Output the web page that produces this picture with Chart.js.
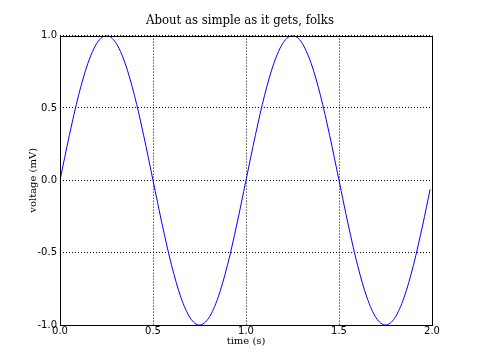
<!DOCTYPE html>
<html lang="en">
<head>
    <meta charset="UTF-8">
    <title>About as simple as it gets, folks</title>
    <style>
        body { margin: 0; background-color: #fff; }
        .chart-container { width: 480px; height: 360px; }
    </style>
</head>
<body>
    <div class="chart-container">
        <canvas id="sineChart" width="480" height="360"></canvas>
    </div>

    <script src="https://cdn.jsdelivr.net/npm/chart.js"></script>
    <script>
        // values
        var times = [0, 0.05, 0.1, 0.15, 0.2, 0.25, 0.3, 0.35, 0.4, 0.45,
                     0.5, 0.55, 0.6, 0.65, 0.7, 0.75, 0.8, 0.85, 0.9, 0.95,
                     1.0, 1.05, 1.1, 1.15, 1.2, 1.25, 1.3, 1.35, 1.4, 1.45,
                     1.5, 1.55, 1.6, 1.65, 1.7, 1.75, 1.8, 1.85, 1.9, 1.95, 1.99];
        var voltage = [0, 0.309, 0.588, 0.809, 0.951, 1.0, 0.951, 0.809, 0.588, 0.309,
                       0, -0.309, -0.588, -0.809, -0.951, -1.0, -0.951, -0.809, -0.588, -0.309,
                       0, 0.309, 0.588, 0.809, 0.951, 1.0, 0.951, 0.809, 0.588, 0.309,
                       0, -0.309, -0.588, -0.809, -0.951, -1.0, -0.951, -0.809, -0.588, -0.309, -0.063];
        var xTicks = [0, 0.5, 1.0, 1.5, 2.0];
        var yTicks = [-1.0, -0.5, 0.0, 0.5, 1.0];

        var points = times.map(function (t, i) { return { x: t, y: voltage[i] }; });

        // solid black frame round the plot area
        var framePlugin = {
            id: 'frame',
            afterDraw: function (chart) {
                var ctx = chart.ctx;
                var a = chart.chartArea;
                ctx.save();
                ctx.strokeStyle = '#000';
                ctx.lineWidth = 1;
                ctx.setLineDash([]);
                ctx.strokeRect(Math.round(a.left) + 0.5, Math.round(a.top) + 0.5,
                               Math.round(a.right - a.left), Math.round(a.bottom - a.top));
                ctx.restore();
            }
        };

        var ctx = document.getElementById('sineChart').getContext('2d');
        var sineChart = new Chart(ctx, {
            type: 'line',
            data: {
                datasets: [{
                    label: 'voltage',
                    data: points,
                    borderColor: '#0000ff',
                    borderWidth: 1,
                    pointRadius: 0,
                    fill: false,
                    cubicInterpolationMode: 'monotone'
                }]
            },
            options: {
                responsive: false,
                animation: false,
                layout: { padding: 0 },
                plugins: {
                    legend: { display: false },
                    tooltip: { enabled: false },
                    title: {
                        display: true,
                        text: 'About as simple as it gets, folks',
                        color: '#000',
                        font: { family: "'DejaVu Serif Condensed', 'DejaVu Serif', serif", size: 13, weight: 'normal' },
                        padding: { top: 13, bottom: 7 }
                    }
                },
                scales: {
                    x: {
                        type: 'linear',
                        min: 0,
                        max: 2,
                        afterBuildTicks: function (scale) {
                            scale.ticks = xTicks.map(function (v) { return { value: v }; });
                        },
                        afterFit: function (scale) { scale.height = 35; },
                        ticks: {
                            color: '#000',
                            padding: 0,
                            maxRotation: 0,
                            font: { family: 'DejaVu Sans', size: 10 },
                            callback: function (v) { return v.toFixed(1); }
                        },
                        grid: { color: '#000', lineWidth: 1, drawTicks: false },
                        border: { display: false, dash: [1, 2] },
                        title: {
                            display: true,
                            text: 'time (s)',
                            color: '#000',
                            font: { family: 'DejaVu Serif', size: 10 },
                            padding: { top: 0, bottom: 13 }
                        }
                    },
                    y: {
                        min: -1,
                        max: 1,
                        afterBuildTicks: function (scale) {
                            scale.ticks = yTicks.map(function (v) { return { value: v }; });
                        },
                        afterFit: function (scale) { scale.width = 60; },
                        ticks: {
                            color: '#000',
                            padding: 3,
                            font: { family: 'DejaVu Sans', size: 10 },
                            callback: function (v) { return v.toFixed(1); }
                        },
                        grid: { color: '#000', lineWidth: 1, drawTicks: false },
                        border: { display: false, dash: [1, 2] },
                        title: {
                            display: true,
                            text: 'voltage (mV)',
                            color: '#000',
                            font: { family: 'DejaVu Serif', size: 10 },
                            padding: { top: 27, bottom: 0 }
                        }
                    },
                    // empty right-hand strip so the plot ends where the original does
                    yRight: {
                        position: 'right',
                        min: -1,
                        max: 1,
                        afterFit: function (scale) { scale.width = 48; },
                        ticks: { display: false },
                        grid: { display: false, drawTicks: false },
                        border: { display: false }
                    }
                }
            },
            plugins: [framePlugin]
        });
    </script>
</body>
</html>
